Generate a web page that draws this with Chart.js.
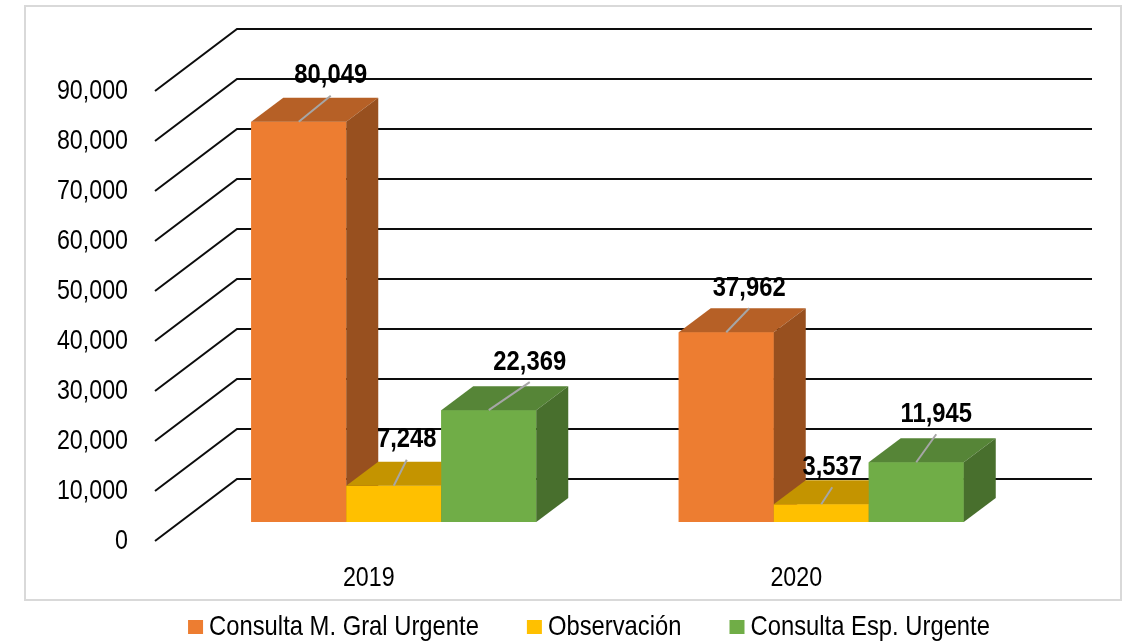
<!DOCTYPE html>
<html><head><meta charset="utf-8">
<script src="https://cdn.jsdelivr.net/npm/chart.js@4/dist/chart.umd.min.js"></script>
<style>html,body{margin:0;padding:0;background:#fff;overflow:hidden}#wrap{width:1128px;height:644px;position:relative}</style>
</head><body><div id="wrap"><canvas id="c" width="1128" height="644"></canvas></div>
<script>
// ---- data ----
const categories = ['2019', '2020'];
const seriesNames = ['Consulta M. Gral Urgente', 'Observación', 'Consulta Esp. Urgente'];
const gralUrgente = [80049, 37962];
const observacion = [7248, 3537];
const espUrgente = [22369, 11945];
const yTickValues = [0, 10000, 20000, 30000, 40000, 50000, 60000, 70000, 80000, 90000];

// ---- style ----
const seriesColors = ['#ED7D31', '#FFC000', '#70AD47'];
const FONT = '"Liberation Sans",Arial,sans-serif';
const NARROW = 0.83, NARROW_B = 0.85, NARROW_L = 0.85;   // horizontal squeeze to mimic Arial Narrow
// label placement nudges (dx, dy) relative to bar front-top centre
const labelNudge = [
  [[32, -46], [23, -44]],
  [[13, -46], [11, -37]],
  [[41, -48], [20, -48]]
];
const FRONT = [-25, 19];   // front wall plane offset from bar plane
const BACK = [57, -43];    // back wall plane offset from bar plane
const DEPTH = [32, -24];   // bar depth

function shade(hex, f) {
  const n = parseInt(hex.slice(1), 16);
  const r = Math.round(((n >> 16) & 255) * f), g = Math.round(((n >> 8) & 255) * f), b = Math.round((n & 255) * f);
  return 'rgb(' + r + ',' + g + ',' + b + ')';
}
const fmt = v => v.toLocaleString('en-US');
function text(ctx, t, x, y, sx) {
  ctx.save();
  ctx.translate(x, y);
  ctx.scale(sx, 1);
  ctx.fillText(t, 0, 0);
  ctx.restore();
}

const plugin3d = {
  id: 'p3d',
  beforeDraw(chart) {
    const ctx = chart.ctx;
    ctx.save();
    ctx.fillStyle = '#fff';
    ctx.fillRect(0, 0, chart.width, chart.height);
    ctx.strokeStyle = '#D9D9D9';
    ctx.lineWidth = 2;
    ctx.strokeRect(25, 6, 1096, 594);
    ctx.restore();
  },
  beforeDatasetsDraw(chart) {
    const ctx = chart.ctx, ys = chart.scales.y, xs = chart.scales.x, ca = chart.chartArea;
    ctx.save();
    ctx.strokeStyle = '#0d0d0d';
    ctx.lineWidth = 2;
    yTickValues.forEach(v => {
      const y = ys.getPixelForValue(v);
      ctx.beginPath();
      ctx.moveTo(ca.left + FRONT[0], y + FRONT[1]);
      ctx.lineTo(ca.left + BACK[0], y + BACK[1]);
      ctx.lineTo(ca.right + BACK[0], y + BACK[1]);
      ctx.stroke();
    });
    ctx.fillStyle = '#000';
    ctx.font = '28px ' + FONT;
    ctx.textAlign = 'right';
    ctx.textBaseline = 'middle';
    yTickValues.forEach(v => {
      const y = ys.getPixelForValue(v);
      text(ctx, fmt(v), ca.left + FRONT[0] - 27, y + FRONT[1], NARROW);
    });
    ctx.textAlign = 'center';
    categories.forEach((c, i) => {
      text(ctx, c, xs.getPixelForValue(i) + FRONT[0], ca.bottom + 56, NARROW);
    });
    ctx.restore();
  },
  afterDatasetsDraw(chart) {
    const ctx = chart.ctx;
    ctx.save();
    // redraw 3D boxes in depth-correct order: per category, left to right
    const metas = chart.data.datasets.map((d, i) => chart.getDatasetMeta(i));
    categories.forEach((c, ci) => {
      metas.forEach((meta, di) => {
        const el = meta.data[ci], base = seriesColors[di];
        const l = el.x - el.width / 2, r = el.x + el.width / 2, t = el.y, b = el.base;
        ctx.fillStyle = base;
        ctx.fillRect(l, t, r - l, b - t);
        ctx.fillStyle = shade(base, 0.77);
        ctx.beginPath();
        ctx.moveTo(l, t); ctx.lineTo(r, t); ctx.lineTo(r + DEPTH[0], t + DEPTH[1]); ctx.lineTo(l + DEPTH[0], t + DEPTH[1]);
        ctx.closePath(); ctx.fill();
        ctx.fillStyle = shade(base, 0.64);
        ctx.beginPath();
        ctx.moveTo(r, t); ctx.lineTo(r + DEPTH[0], t + DEPTH[1]); ctx.lineTo(r + DEPTH[0], b + DEPTH[1]); ctx.lineTo(r, b);
        ctx.closePath(); ctx.fill();
      });
    });
    // data labels with leader lines
    chart.data.datasets.forEach((ds, di) => {
      metas[di].data.forEach((el, i) => {
        const fx = el.x, fy = el.y;
        const lx = fx + labelNudge[di][i][0], ly = fy + labelNudge[di][i][1];
        ctx.strokeStyle = '#A6A6A6';
        ctx.lineWidth = 2;
        ctx.beginPath(); ctx.moveTo(fx, fy); ctx.lineTo(lx, ly + 20); ctx.stroke();
        ctx.fillStyle = '#000';
        ctx.font = 'bold 28px ' + FONT;
        ctx.textAlign = 'center';
        ctx.textBaseline = 'middle';
        text(ctx, fmt(ds.data[i]), lx, ly, NARROW_B);
      });
    });
    ctx.restore();
  },
  afterDraw(chart) {
    const ctx = chart.ctx;
    ctx.save();
    ctx.font = '28px ' + FONT;
    ctx.textBaseline = 'middle';
    ctx.textAlign = 'left';
    const box = 15, gap = 6, itemGap = 48, cy = 627;
    const widths = seriesNames.map(n => ctx.measureText(n).width * NARROW_L);
    const total = widths.reduce((a, w) => a + box + gap + w, 0) + itemGap * (seriesNames.length - 1);
    let x = 589 - total / 2;
    seriesNames.forEach((n, i) => {
      ctx.fillStyle = seriesColors[i];
      ctx.fillRect(x, cy - 7, box, 14);
      ctx.fillStyle = '#000';
      text(ctx, n, x + box + gap, cy, NARROW_L);
      x += box + gap + widths[i] + itemGap;
    });
    ctx.restore();
  }
};

const seriesValues = [gralUrgente, observacion, espUrgente];
new Chart(document.getElementById('c'), {
  type: 'bar',
  data: {
    labels: categories,
    datasets: seriesNames.map((n, i) => ({
      label: n,
      data: seriesValues[i],
      backgroundColor: seriesColors[i],
      borderWidth: 0,
      categoryPercentage: 2 / 3,
      barPercentage: 1
    }))
  },
  options: {
    responsive: false,
    animation: false,
    events: [],
    devicePixelRatio: 1,
    layout: { padding: { left: 180, right: 93, top: 72, bottom: 122 } },
    plugins: { legend: { display: false }, tooltip: { enabled: false } },
    scales: {
      x: { display: false },
      y: { display: false, min: 0, max: 90000, ticks: { stepSize: 10000 } }
    }
  },
  plugins: [plugin3d]
});
</script>
</body></html>
